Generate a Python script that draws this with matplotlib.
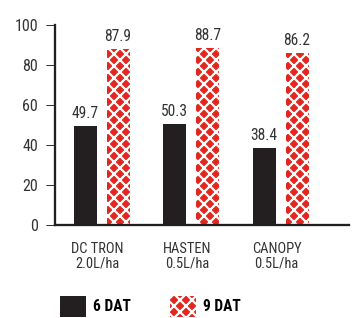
import matplotlib
matplotlib.use("Agg")
import matplotlib.pyplot as plt
import numpy as np

products = ["DC TRON", "HASTEN", "CANOPY"]
rates = ["2.0L/ha", "0.5L/ha", "0.5L/ha"]
series_names = ["6 DAT", "9 DAT"]
dat6 = [49.7, 50.3, 38.4]
dat9 = [87.9, 88.7, 86.2]
yticks = [0, 20, 40, 60, 80, 100]

BLACK = "#231f20"
RED = "#e3261e"
TXT = "#333333"
COND = ["Roboto Condensed", "Liberation Sans Narrow", "DejaVu Sans"]

plt.rcParams["hatch.linewidth"] = 2.2
DPI = 72
fig = plt.figure(figsize=(355 / DPI, 318 / DPI), dpi=DPI)
ax = fig.add_axes([55 / 355, 93 / 318, (349 - 55) / 355, 200 / 318])

x = np.arange(len(products))
w = 0.257
off = 0.184
b1 = ax.bar(x - off, dat6, w, color=BLACK, linewidth=0, label=series_names[0])
b2 = ax.bar(x + off, dat9, w, color=RED, edgecolor="white", hatch="xx",
            linewidth=0, label=series_names[1])

for bars, vals in ((b1, dat6), (b2, dat9)):
    for r, v in zip(bars, vals):
        ax.annotate(f"{v:.1f}", (r.get_x() + r.get_width() / 2, v),
                    xytext=(0, 5), textcoords="offset pixels",
                    ha="center", va="bottom", fontsize=15.5, color=TXT,
                    family=COND)

ax.set_xlim(-0.52, 2.765)
ax.set_ylim(0, 100)
ax.set_yticks(yticks)
ax.set_yticklabels([str(t) for t in yticks], fontsize=16, color=TXT, family=COND)
ax.tick_params(axis="y", length=9, width=1, color=TXT, pad=8)
ax.set_xticks([])
for s in ("top", "right"):
    ax.spines[s].set_visible(False)
for s in ("left", "bottom"):
    ax.spines[s].set_linewidth(2.3)
    ax.spines[s].set_color(BLACK)

for xi, p, r in zip(x, products, rates):
    ax.annotate(f"{p}\n{r}", (xi, 0), xytext=(-4, -17), textcoords="offset pixels",
                ha="center", va="top", fontsize=14.5, color=TXT, linespacing=1.05,
                family=COND)

fig.legend(handles=[b1, b2], labels=series_names, loc="upper left",
           bbox_to_anchor=(60 / 355, 22 / 318), ncol=2, frameon=False,
           borderpad=0, borderaxespad=0, handlelength=26 / 15.5, handleheight=26 / 15.5,
           handletextpad=0.45, columnspacing=2.5,
           prop={"family": COND, "weight": "bold", "size": 15.5})

fig.savefig("out.png", dpi=DPI)
